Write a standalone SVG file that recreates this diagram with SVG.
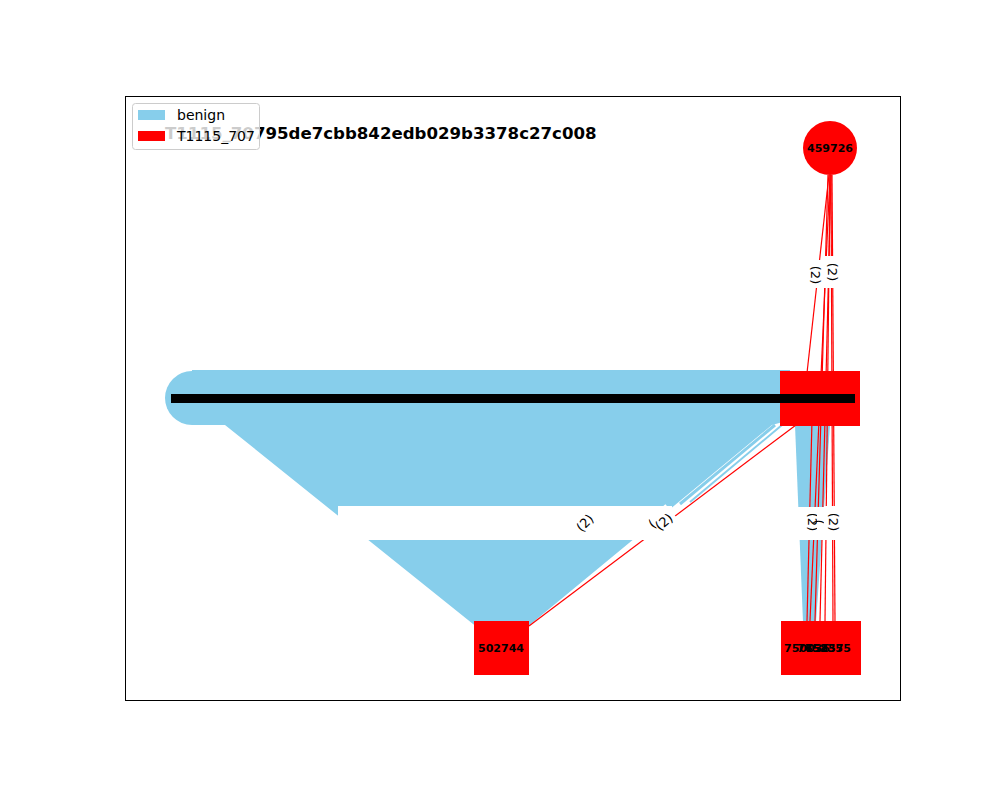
<svg xmlns="http://www.w3.org/2000/svg" width="1000" height="800" viewBox="0 0 1000 800">
<style>
.lbl{font-family:"DejaVu Sans",sans-serif;font-size:11px;font-weight:bold;fill:#000;text-anchor:middle;dominant-baseline:central}
.el{font-family:"DejaVu Sans",sans-serif;font-size:13px;fill:#000;text-anchor:middle;dominant-baseline:central}
.red{stroke:#ff0000;stroke-width:1.2;fill:none}
.leg{font-family:"DejaVu Sans",sans-serif;font-size:14px;fill:#000}
</style>
<rect width="1000" height="800" fill="#fff"/>
<g id="edges">
  <circle cx="192" cy="398" r="27" fill="#87ceeb"/>
  <polygon points="192,370 790,370 790,420 772,425 526,628 478,628 225,425 192,425" fill="#87ceeb"/>
  <line x1="775" y1="425" x2="680" y2="504" stroke="#87ceeb" stroke-width="3"/>
  <line x1="782" y1="425" x2="690" y2="502" stroke="#87ceeb" stroke-width="2"/>
  <polygon points="795,425 830,425 816,622 803,622" fill="#87ceeb"/>
  <line class="red" x1="529" y1="626" x2="800" y2="422"/>
  <line class="red" x1="829" y1="175" x2="804" y2="400"/>
  <line class="red" x1="830" y1="175" x2="810" y2="621"/>
  <line class="red" x1="828" y1="175" x2="815" y2="621"/>
  <line class="red" x1="831" y1="175" x2="820" y2="621"/>
  <line class="red" x1="830" y1="175" x2="825" y2="621"/>
  <line class="red" x1="831" y1="175" x2="833" y2="621"/>
  <line class="red" x1="832" y1="175" x2="835" y2="621"/>
  <line class="red" x1="812" y1="420" x2="807" y2="621"/>
</g>
<g id="edge-labels">
  <rect x="338" y="506" width="334" height="34" fill="#fff"/>
  <rect x="798" y="507" width="52" height="33" fill="#fff"/>
  <text class="el" transform="translate(585,523) rotate(-45)">(2)</text>
  <text class="el" transform="translate(652,524) rotate(-40)">(</text>
  <rect x="655" y="508" width="22" height="30" fill="#fff" transform="rotate(-40 666 522)"/>
  <text class="el" transform="translate(664,522) rotate(-40)">(2)</text>
  <text class="el" transform="translate(812,522) rotate(90)">(2)</text>
  <rect x="817" y="508" width="14" height="30" fill="#fff"/>
  <text class="el" transform="translate(818,522) rotate(90)">(</text>
  <rect x="824" y="506" width="18" height="34" fill="#fff"/>
  <text class="el" transform="translate(833,522) rotate(90)">(2)</text>
  <rect x="808" y="260" width="14" height="28" fill="#fff"/>
  <text class="el" transform="translate(815,275) rotate(90)">(2)</text>
  <rect x="822" y="256" width="20" height="32" fill="#fff"/>
  <text class="el" transform="translate(832,272) rotate(90)">(2)</text>
</g>
<g id="node-459726">
  <circle cx="830" cy="148" r="27" fill="#ff0000"/>
  <text class="lbl" x="830" y="148">459726</text>
</g>
<g id="node-center">
  <rect x="780" y="371" width="80" height="55" fill="#ff0000"/>
  <rect x="171" y="394" width="684" height="9" fill="#000"/>
</g>
<g id="node-502744">
  <rect x="474" y="621" width="55" height="54" fill="#ff0000"/>
  <text class="lbl" x="501" y="648">502744</text>
</g>
<g id="node-750">
  <rect x="781" y="621" width="80" height="54" fill="#ff0000"/>
  <text class="lbl" x="807" y="648">750036</text>
  <text class="lbl" x="820" y="648">765235</text>
  <text class="lbl" x="828" y="648">758575</text>
</g>
<rect x="125.5" y="96.5" width="775" height="604" fill="none" stroke="#000" stroke-width="1"/>
<text x="165" y="139" font-family="DejaVu Sans,sans-serif" font-size="16.6" font-weight="bold">T1115_70795de7cbb842edb029b3378c27c008</text>
<g id="legend">
  <rect x="132.5" y="103.5" width="127" height="46" rx="3" fill="#fff" fill-opacity="0.8" stroke="#ccc"/>
  <rect x="138" y="110" width="27" height="10" fill="#87ceeb"/>
  <rect x="138" y="131" width="27" height="10" fill="#ff0000"/>
  <text class="leg" x="177" y="120">benign</text>
  <text class="leg" x="177" y="141">T1115_707</text>
</g>
</svg>
